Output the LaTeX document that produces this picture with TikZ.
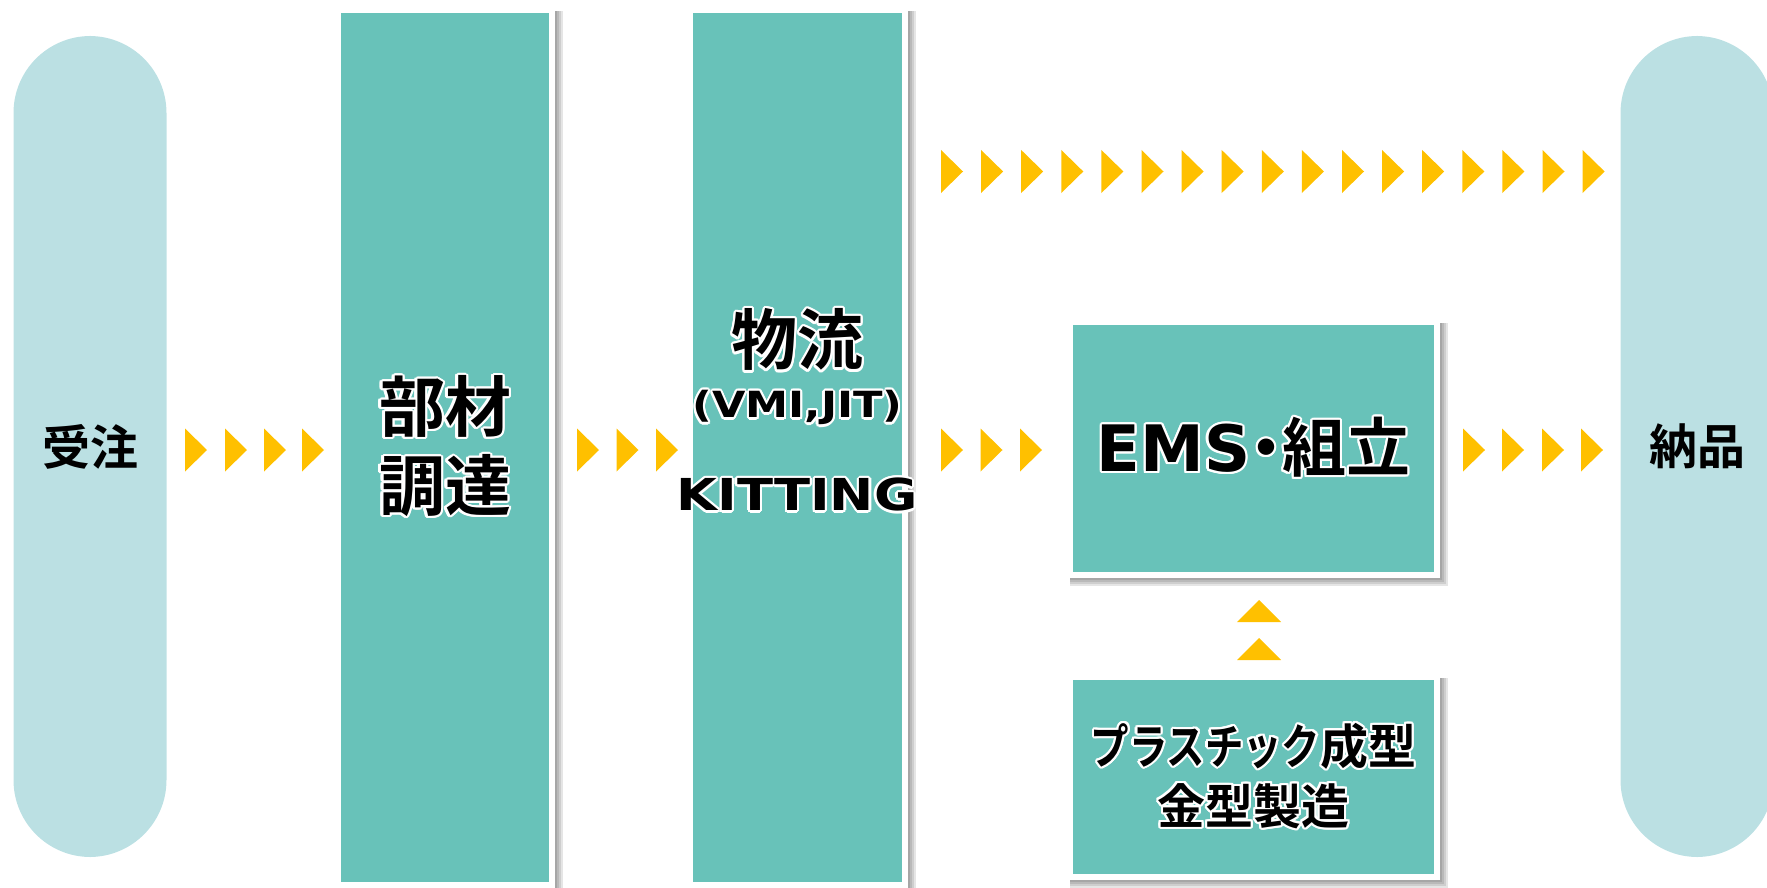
\documentclass[tikz,border=0pt]{standalone}
\usepackage{fontspec}
\usepackage{contour}
\usetikzlibrary{calc,backgrounds}
\newfontfamily\jpfont{Noto Sans CJK JP Bold}[RawFeature=+palt]
\newfontfamily\jpnarrow{Noto Sans CJK JP Bold}[FakeStretch=0.8]
\newfontfamily\latfont{DejaVu Sans Bold}
\newfontfamily\latwide{DejaVu Sans Bold}[FakeStretch=1.2]
\definecolor{pillblue}{HTML}{BBE0E3}
\definecolor{boxteal}{HTML}{68C2B9}
\definecolor{arrowgold}{HTML}{FFC000}
\contourlength{1.1pt}
\newcommand{\glow}[1]{\contour{white}{#1}}

\tikzset{
  pill/.style={fill=pillblue, rounded corners=38.5pt,
    minimum width=76.5pt, minimum height=410.5pt, inner sep=0pt,
    font=\jpfont\fontsize{24}{28}\selectfont},
  stagebox/.style={fill=boxteal, draw=white, line width=3pt,
    inner sep=0pt, align=center},
  stagetext/.style={inner sep=0pt, align=center},
  boxshadow/.style={fill=black, opacity=.1},
  rchev/.pic={\fill[arrowgold] (0,-21.5) -- (22,0) -- (0,21.5) -- cycle;},
  uchev/.pic={\fill[arrowgold] (-22,0) -- (0,-22) -- (22,0) -- cycle;},
}

\begin{document}
\begin{tikzpicture}[x=0.5pt,y=-0.5pt]
  \useasboundingbox (0,0) rectangle (1767,888);
  \clip (0,0) rectangle (1767,888);

  % start and end
  \node[pill] (order) at (90,446.5) {受注};
  \node[pill] (deliver) at (1697,446.5) {納品};

  % stages
  \node[stagebox, minimum width=107pt, minimum height=437.5pt,
    font=\jpfont\fontsize{33}{39.5}\selectfont]
    (parts) at (445,447.3) {\glow{部材}\\\glow{調達}};
  \node[stagebox, minimum width=107.5pt, minimum height=437.5pt]
    (logis) at (797.5,447.3) {};
  \node[stagetext, font=\jpfont\fontsize{33}{39.5}\selectfont]
    (logname) at (797.5,341) {\glow{物流}};
  \node[stagetext, font=\latwide\fontsize{18}{22}\selectfont]
    (logsub) at (797.5,409) {\glow{(VMI,JIT)}};
  \node[stagetext, font=\latwide\fontsize{22}{26}\selectfont]
    (kitting) at (797,496) {\glow{KITTING}};
  \node[stagebox, minimum width=183.5pt, minimum height=126.5pt,
    font=\fontsize{32}{38}\selectfont]
    (ems) at (1253.5,448.5) {\glow{\latfont EMS}\glow{\jpfont ・組立}};
  \node[stagebox, minimum width=183.5pt, minimum height=100pt,
    font=\jpfont\fontsize{24}{30}\selectfont]
    (mold) at (1253.5,777) {\glow{{\jpnarrow プラスチック}成型}\\\glow{金型製造}};

  % soft shadows
  \begin{scope}[on background layer]
    \foreach \n in {parts,logis,ems,mold}
      \foreach \k in {2,4,6,8}
        \fill[boxshadow] ($(\n.north west)+(3,4)$) rectangle ($(\n.south east)+(\k,\k)$);
  \end{scope}

  % flow marks
  \foreach \x in {185,225,264,302} \pic at (\x,450) {rchev};
  \foreach \x in {577,616.5,656} \pic at (\x,450) {rchev};
  \foreach \x in {941,980.5,1020} \pic at (\x,450) {rchev};
  \foreach \x in {1463,1502,1542,1581} \pic at (\x,450) {rchev};
  \foreach \i in {0,...,16} \pic at (941+40.1*\i,171.5) {rchev};
  \foreach \y in {622,660} \pic at (1259,\y) {uchev};
\end{tikzpicture}
\end{document}
